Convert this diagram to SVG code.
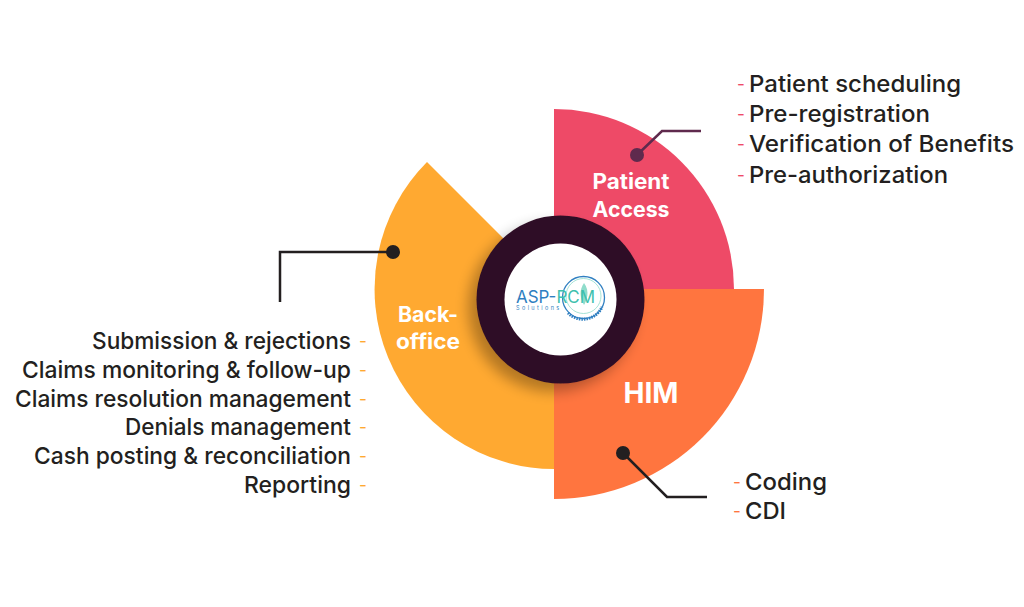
<svg xmlns="http://www.w3.org/2000/svg" width="1024" height="607" viewBox="0 0 1024 607">
<defs>
<filter id="ringShadow" x="-30%" y="-30%" width="160%" height="160%"><feGaussianBlur in="SourceAlpha" stdDeviation="7"/><feOffset dx="-8" dy="8"/><feComponentTransfer><feFuncA type="linear" slope="0.3"/></feComponentTransfer><feMerge><feMergeNode/><feMergeNode in="SourceGraphic"/></feMerge></filter>
</defs>
<style>
text{font-family:"Inter","Liberation Sans",sans-serif}
.item{font-size:23.5px;font-weight:500;fill:#231f20}
.dash{font-size:17px;font-weight:400}
.title{font-size:21px;font-weight:700;fill:#fff;text-anchor:middle}
.dot{stroke:none}
.wire{fill:none;stroke-width:2.5}
</style>
<rect width="1024" height="607" fill="#fff"/>
<g id="node-backoffice">
<path d="M554 289L427 162A180 180 0 0 0 554 469Z" fill="#ffa931"/>
<text class="title" x="428" y="322" textLength="60" lengthAdjust="spacingAndGlyphs">Back-</text>
<text class="title" x="428" y="349" textLength="64" lengthAdjust="spacingAndGlyphs">office</text>
</g>
<g id="node-patient-access">
<path d="M554 289V109A180 180 0 0 1 734 289Z" fill="#ee4a67"/>
<text class="title" x="631" y="189" textLength="77" lengthAdjust="spacingAndGlyphs">Patient</text>
<text class="title" x="631" y="217" textLength="77" lengthAdjust="spacingAndGlyphs">Access</text>
</g>
<g id="node-him">
<path d="M554 289H764A210 210 0 0 1 554 499Z" fill="#ff753f"/>
<text class="title" x="651" y="403" style="font-size:28px" textLength="55" lengthAdjust="spacingAndGlyphs">HIM</text>
</g>
<g id="connectors">
<path class="wire" stroke="#5f2a4d" d="M637 155L662 131H701"/>
<path class="wire" stroke="#231f20" d="M393 252H280V302"/>
<path class="wire" stroke="#231f20" d="M623 453L667 497H707"/>
<circle class="dot" cx="637" cy="155" r="7" fill="#5f2a4d"/>
<circle class="dot" cx="393" cy="252" r="7" fill="#231f20"/>
<circle class="dot" cx="623" cy="453" r="7" fill="#231f20"/>
</g>
<g id="node-hub">
<circle cx="560.5" cy="299.5" r="84" fill="#2e1025" filter="url(#ringShadow)"/>
<circle cx="560.5" cy="299.5" r="56" fill="#fff"/>
<circle cx="583.5" cy="297.5" r="21" fill="none" stroke="#2f7fc1" stroke-width="1.3"/>
<circle cx="583.5" cy="296" r="17.5" fill="none" stroke="#8fdccb" stroke-width="0.8"/>
<path d="M584 283C590 291 587 300 584 305C580 298 579 290 584 283Z" fill="#8fdccb"/>
<path d="M568 313A21 21 0 0 0 602 307" fill="none" stroke="#2f7fc1" stroke-width="3" stroke-dasharray="1.5 1"/>
<text x="516" y="303" style="font-size:17px;font-weight:400" fill="#2f7fc1" textLength="79" lengthAdjust="spacingAndGlyphs">ASP-<tspan fill="#3dc0ae">RCM</tspan></text>
<text x="516" y="310" style="font-size:5.5px;letter-spacing:2.4px" fill="#2f7fc1">Solutions</text>
</g>
<g id="list-patient-access">
<g fill="#ee4a67"><text class="dash" x="737" y="90">-</text><text class="dash" x="737" y="120">-</text><text class="dash" x="737" y="150">-</text><text class="dash" x="737" y="181">-</text></g>
<text class="item" x="749" y="92" textLength="212" lengthAdjust="spacingAndGlyphs">Patient scheduling</text>
<text class="item" x="749" y="122" textLength="181" lengthAdjust="spacingAndGlyphs">Pre-registration</text>
<text class="item" x="749" y="152" textLength="265" lengthAdjust="spacingAndGlyphs">Verification of Benefits</text>
<text class="item" x="749" y="183" textLength="199" lengthAdjust="spacingAndGlyphs">Pre-authorization</text>
</g>
<g id="list-backoffice">
<g fill="#ffa931"><text class="dash" x="359" y="347">-</text><text class="dash" x="359" y="376">-</text><text class="dash" x="359" y="405">-</text><text class="dash" x="359" y="433">-</text><text class="dash" x="359" y="462">-</text><text class="dash" x="359" y="491">-</text></g>
<text class="item" x="92" y="349" textLength="259" lengthAdjust="spacingAndGlyphs">Submission &amp; rejections</text>
<text class="item" x="22" y="378" textLength="329" lengthAdjust="spacingAndGlyphs">Claims monitoring &amp; follow-up</text>
<text class="item" x="15" y="407" textLength="336" lengthAdjust="spacingAndGlyphs">Claims resolution management</text>
<text class="item" x="125" y="435" textLength="226" lengthAdjust="spacingAndGlyphs">Denials management</text>
<text class="item" x="34" y="464" textLength="317" lengthAdjust="spacingAndGlyphs">Cash posting &amp; reconciliation</text>
<text class="item" x="244" y="493" textLength="107" lengthAdjust="spacingAndGlyphs">Reporting</text>
</g>
<g id="list-him">
<g fill="#ff753f"><text class="dash" x="733" y="488">-</text><text class="dash" x="733" y="517">-</text></g>
<text class="item" x="745" y="490" textLength="82" lengthAdjust="spacingAndGlyphs">Coding</text>
<text class="item" x="745" y="519" textLength="41" lengthAdjust="spacingAndGlyphs">CDI</text>
</g>
</svg>
